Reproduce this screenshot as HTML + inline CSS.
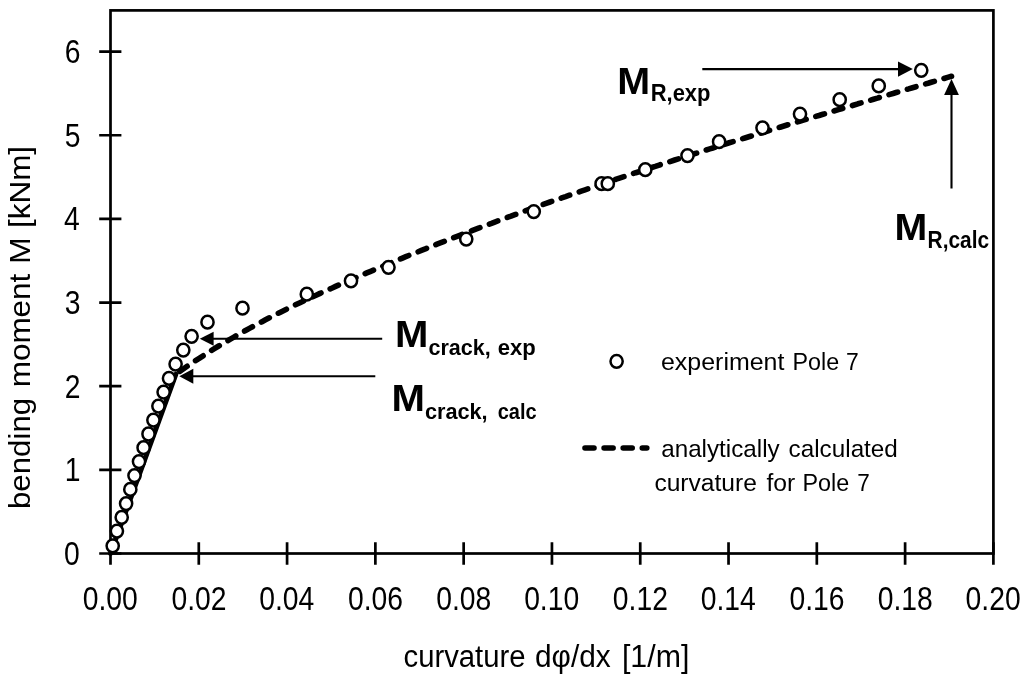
<!DOCTYPE html>
<html><head><meta charset="utf-8"><title>Moment-curvature Pole 7</title>
<style>html,body{margin:0;padding:0;background:#fff}svg{display:block}text{font-family:"Liberation Sans", sans-serif;fill:#000}</style>
</head><body>
<svg width="1024" height="677" viewBox="0 0 1024 677">
<rect width="1024" height="677" fill="#fff"/>
<rect x="110.5" y="10.4" width="882.9" height="543.1" fill="none" stroke="#000" stroke-width="2.7"/>
<path d="M110.50 542.2V564.8 M198.79 542.2V564.8 M287.08 542.2V564.8 M375.37 542.2V564.8 M463.66 542.2V564.8 M551.95 542.2V564.8 M640.24 542.2V564.8 M728.53 542.2V564.8 M816.82 542.2V564.8 M905.11 542.2V564.8 M993.40 542.2V564.8 M99.2 553.50H121.4 M99.2 469.85H121.4 M99.2 386.20H121.4 M99.2 302.55H121.4 M99.2 218.90H121.4 M99.2 135.25H121.4 M99.2 51.60H121.4" stroke="#000" stroke-width="2.7" fill="none"/>
<path d="M110.5 553.5L175.8 374.3" fill="none" stroke="#000" stroke-width="5" stroke-linecap="round"/>
<path d="M175.8 374.2 L179.7 371.4 L183.6 368.7 L187.5 366.0 L191.4 363.4 L195.3 360.8 L199.2 358.3 L203.1 355.8 L207.0 353.3 L210.9 350.8 L214.8 348.4 L218.7 346.0 L222.6 343.7 L226.5 341.4 L230.4 339.1 L234.3 336.8 L238.2 334.6 L242.1 332.4 L246.0 330.3 L249.9 328.1 L253.8 326.0 L257.7 323.9 L261.6 321.9 L265.5 319.8 L269.4 317.8 L273.2 315.8 L277.1 313.8 L281.0 311.9 L284.9 310.0 L288.8 308.1 L292.7 306.2 L296.6 304.3 L300.5 302.4 L304.4 300.6 L308.3 298.8 L312.2 297.0 L316.1 295.2 L320.0 293.4 L323.9 291.7 L327.8 289.9 L331.7 288.2 L335.6 286.4 L339.5 284.7 L343.4 283.0 L347.3 281.3 L351.2 279.6 L355.1 278.0 L359.0 276.3 L362.9 274.6 L366.8 272.9 L370.7 271.3 L374.6 269.6 L378.5 268.0 L382.4 266.4 L386.3 264.7 L390.2 263.1 L394.1 261.5 L398.0 259.9 L401.9 258.3 L405.8 256.7 L409.7 255.1 L413.6 253.6 L417.5 252.0 L421.4 250.4 L425.3 248.9 L429.2 247.3 L433.1 245.8 L437.0 244.2 L440.9 242.7 L444.8 241.2 L448.7 239.6 L452.6 238.1 L456.5 236.6 L460.4 235.1 L464.3 233.6 L468.1 232.1 L472.0 230.6 L475.9 229.1 L479.8 227.7 L483.7 226.2 L487.6 224.7 L491.5 223.3 L495.4 221.8 L499.3 220.4 L503.2 218.9 L507.1 217.5 L511.0 216.1 L514.9 214.6 L518.8 213.2 L522.7 211.8 L526.6 210.4 L530.5 209.0 L534.4 207.6 L538.3 206.2 L542.2 204.8 L546.1 203.4 L550.0 202.0 L553.9 200.7 L557.8 199.3 L561.7 197.9 L565.6 196.6 L569.5 195.2 L573.4 193.8 L577.3 192.5 L581.2 191.1 L585.1 189.8 L589.0 188.5 L592.9 187.1 L596.8 185.8 L600.7 184.5 L604.6 183.2 L608.5 181.8 L612.4 180.5 L616.3 179.2 L620.2 177.9 L624.1 176.6 L628.0 175.3 L631.9 174.0 L635.8 172.7 L639.7 171.5 L643.6 170.2 L647.5 168.9 L651.4 167.6 L655.3 166.4 L659.2 165.1 L663.0 163.8 L666.9 162.6 L670.8 161.3 L674.7 160.0 L678.6 158.8 L682.5 157.5 L686.4 156.3 L690.3 155.1 L694.2 153.8 L698.1 152.6 L702.0 151.3 L705.9 150.1 L709.8 148.9 L713.7 147.7 L717.6 146.4 L721.5 145.2 L725.4 144.0 L729.3 142.8 L733.2 141.6 L737.1 140.4 L741.0 139.2 L744.9 138.0 L748.8 136.8 L752.7 135.6 L756.6 134.4 L760.5 133.2 L764.4 132.0 L768.3 130.8 L772.2 129.6 L776.1 128.4 L780.0 127.2 L783.9 126.0 L787.8 124.8 L791.7 123.7 L795.6 122.5 L799.5 121.3 L803.4 120.1 L807.3 119.0 L811.2 117.8 L815.1 116.6 L819.0 115.5 L822.9 114.3 L826.8 113.1 L830.7 112.0 L834.6 110.8 L838.5 109.6 L842.4 108.5 L846.3 107.3 L850.2 106.2 L854.1 105.0 L857.9 103.8 L861.8 102.7 L865.7 101.5 L869.6 100.4 L873.5 99.2 L877.4 98.1 L881.3 96.9 L885.2 95.8 L889.1 94.6 L893.0 93.5 L896.9 92.3 L900.8 91.2 L904.7 90.0 L908.6 88.9 L912.5 87.7 L916.4 86.6 L920.3 85.5 L924.2 84.3 L928.1 83.2 L932.0 82.0 L935.9 80.9 L939.8 79.7 L943.7 78.6 L947.6 77.4 L951.5 76.3" fill="none" stroke="#000" stroke-width="5.6" stroke-linecap="round" stroke-linejoin="round" stroke-dasharray="9.0 10.1" stroke-dashoffset="14.28"/>
<path d="M585 448H646.8" fill="none" stroke="#000" stroke-width="5.6" stroke-linecap="round" stroke-dasharray="9 10.1"/>
<path d="M702.3 69.1H905.4" stroke="#000" stroke-width="2.1" fill="none"/><path d="M912.8 69.1L898.0 61.49999999999999V76.69999999999999Z" fill="#000"/>
<path d="M951.5 188.5V87.0" stroke="#000" stroke-width="2.1" fill="none"/><path d="M951.5 79.0L944.1 95.0H958.9Z" fill="#000"/>
<path d="M382.2 338.7H206.70000000000002" stroke="#000" stroke-width="2.1" fill="none"/><path d="M199.8 338.7L213.60000000000002 331.7V345.7Z" fill="#000"/>
<path d="M375.3 376.2H186.3" stroke="#000" stroke-width="2.1" fill="none"/><path d="M179.3 376.2L193.3 368.7V383.7Z" fill="#000"/>
<g fill="#fff" stroke="#000" stroke-width="2.5"><ellipse cx="112.7" cy="545.80" rx="6.1" ry="6.4"/><ellipse cx="116.9" cy="531.10" rx="6.1" ry="6.4"/><ellipse cx="121.7" cy="517.30" rx="6.1" ry="6.4"/><ellipse cx="126.1" cy="503.60" rx="6.1" ry="6.4"/><ellipse cx="130.3" cy="489.40" rx="6.1" ry="6.4"/><ellipse cx="134.5" cy="475.60" rx="6.1" ry="6.4"/><ellipse cx="139.0" cy="461.60" rx="6.1" ry="6.4"/><ellipse cx="143.6" cy="447.70" rx="6.1" ry="6.4"/><ellipse cx="148.5" cy="434.00" rx="6.1" ry="6.4"/><ellipse cx="153.4" cy="420.10" rx="6.1" ry="6.4"/><ellipse cx="158.4" cy="406.10" rx="6.1" ry="6.4"/><ellipse cx="163.6" cy="392.10" rx="6.1" ry="6.4"/><ellipse cx="169.0" cy="378.30" rx="6.1" ry="6.4"/><ellipse cx="175.6" cy="364.10" rx="6.1" ry="6.4"/><ellipse cx="183.3" cy="350.10" rx="6.1" ry="6.4"/><ellipse cx="191.6" cy="336.30" rx="6.1" ry="6.4"/><ellipse cx="207.5" cy="322.20" rx="6.1" ry="6.4"/><ellipse cx="242.5" cy="308.20" rx="6.1" ry="6.4"/><ellipse cx="306.8" cy="294.20" rx="6.1" ry="6.4"/><ellipse cx="351.0" cy="280.80" rx="6.1" ry="6.4"/><ellipse cx="388.5" cy="267.30" rx="6.1" ry="6.4"/><ellipse cx="466.25" cy="239.05" rx="6.1" ry="6.4"/><ellipse cx="533.75" cy="211.55" rx="6.1" ry="6.4"/><ellipse cx="601.6" cy="183.70" rx="6.1" ry="6.4"/><ellipse cx="607.8" cy="183.70" rx="6.1" ry="6.4"/><ellipse cx="645.3" cy="169.70" rx="6.1" ry="6.4"/><ellipse cx="687.5" cy="155.60" rx="6.1" ry="6.4"/><ellipse cx="719.1" cy="141.70" rx="6.1" ry="6.4"/><ellipse cx="762.5" cy="127.80" rx="6.1" ry="6.4"/><ellipse cx="800.0" cy="114.05" rx="6.1" ry="6.4"/><ellipse cx="839.7" cy="99.70" rx="6.1" ry="6.4"/><ellipse cx="878.75" cy="85.90" rx="6.1" ry="6.4"/><ellipse cx="921.25" cy="70.30" rx="6.1" ry="6.4"/><ellipse cx="616.6" cy="361.30" rx="6.1" ry="6.4"/></g>
<text transform="translate(403.55 667.00) scale(0.9505 1)" font-size="30.8" font-weight="normal">curvature</text>
<text transform="translate(534.93 667.00) scale(0.9694 1)" font-size="30.8" font-weight="normal">dφ/dx</text>
<text transform="translate(621.93 667.00) scale(0.9847 1)" font-size="30.8" font-weight="normal">[1/m]</text>
<text transform="translate(660.99 369.50) scale(1.0147 1)" font-size="24.6" font-weight="normal">experiment</text>
<text transform="translate(792.51 369.50) scale(0.9475 1)" font-size="24.6" font-weight="normal">Pole</text>
<text transform="translate(846.07 369.50) scale(0.9333 1)" font-size="24.6" font-weight="normal">7</text>
<text transform="translate(661.21 456.50) scale(0.9850 1)" font-size="24.6" font-weight="normal">analytically</text>
<text transform="translate(788.61 456.50) scale(0.9866 1)" font-size="24.6" font-weight="normal">calculated</text>
<text transform="translate(654.40 490.70) scale(0.9996 1)" font-size="24.6" font-weight="normal">curvature</text>
<text transform="translate(766.40 490.70) scale(1.0031 1)" font-size="24.6" font-weight="normal">for</text>
<text transform="translate(802.40 490.70) scale(0.9496 1)" font-size="24.6" font-weight="normal">Pole</text>
<text transform="translate(857.18 490.70) scale(0.9167 1)" font-size="24.6" font-weight="normal">7</text>
<text transform="translate(617.33 93.80) scale(1.0846 1)" font-size="36.4" font-weight="bold">M</text>
<text transform="translate(650.66 101.40) scale(0.9355 1)" font-size="23.5" font-weight="bold">R,exp</text>
<text transform="translate(894.44 239.70) scale(1.0808 1)" font-size="36.4" font-weight="bold">M</text>
<text transform="translate(927.61 248.20) scale(0.8875 1)" font-size="23.5" font-weight="bold">R,calc</text>
<text transform="translate(394.99 346.70) scale(1.1038 1)" font-size="36.3" font-weight="bold">M</text>
<text transform="translate(428.40 355.30) scale(0.9409 1)" font-size="22.9" font-weight="bold">crack,</text>
<text transform="translate(497.80 355.30) scale(0.9630 1)" font-size="22.9" font-weight="bold">exp</text>
<text transform="translate(391.38 410.80) scale(1.1077 1)" font-size="36.3" font-weight="bold">M</text>
<text transform="translate(424.90 418.90) scale(0.9486 1)" font-size="22.9" font-weight="bold">crack,</text>
<text transform="translate(497.70 418.90) scale(0.8724 1)" font-size="22.9" font-weight="bold">calc</text>
<text transform="translate(30.40 509.07) rotate(-90) scale(1.0669 1)" font-size="29.3" font-weight="normal">bending</text>
<text transform="translate(30.40 387.27) rotate(-90) scale(1.0736 1)" font-size="29.3" font-weight="normal">moment</text>
<text transform="translate(30.40 263.89) rotate(-90) scale(1.0950 1)" font-size="29.3" font-weight="normal">M</text>
<text transform="translate(30.40 227.95) rotate(-90) scale(1.0729 1)" font-size="29.3" font-weight="normal">[kNm]</text>
<text transform="translate(82.69 610.0) scale(0.8573 1)" font-size="33.0">0.00</text>
<text transform="translate(171.41 610.0) scale(0.8573 1)" font-size="33.0">0.02</text>
<text transform="translate(259.27 610.0) scale(0.8573 1)" font-size="33.0">0.04</text>
<text transform="translate(347.99 610.0) scale(0.8573 1)" font-size="33.0">0.06</text>
<text transform="translate(436.28 610.0) scale(0.8573 1)" font-size="33.0">0.08</text>
<text transform="translate(524.14 610.0) scale(0.8573 1)" font-size="33.0">0.10</text>
<text transform="translate(612.86 610.0) scale(0.8573 1)" font-size="33.0">0.12</text>
<text transform="translate(700.72 610.0) scale(0.8573 1)" font-size="33.0">0.14</text>
<text transform="translate(789.44 610.0) scale(0.8573 1)" font-size="33.0">0.16</text>
<text transform="translate(877.73 610.0) scale(0.8573 1)" font-size="33.0">0.18</text>
<text transform="translate(965.59 610.0) scale(0.8573 1)" font-size="33.0">0.20</text>
<text transform="translate(63.97 565.00) scale(0.8573 1)" font-size="33.0">0</text>
<text transform="translate(64.83 481.35) scale(0.8573 1)" font-size="33.0">1</text>
<text transform="translate(64.83 397.70) scale(0.8573 1)" font-size="33.0">2</text>
<text transform="translate(64.83 314.05) scale(0.8573 1)" font-size="33.0">3</text>
<text transform="translate(63.97 230.40) scale(0.8573 1)" font-size="33.0">4</text>
<text transform="translate(64.83 146.75) scale(0.8573 1)" font-size="33.0">5</text>
<text transform="translate(64.83 63.10) scale(0.8573 1)" font-size="33.0">6</text>
</svg>
</body></html>
